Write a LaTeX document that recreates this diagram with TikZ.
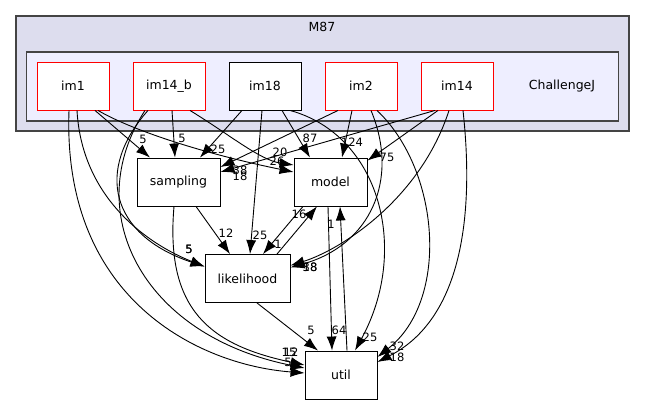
\documentclass[tikz,border=0pt]{standalone}
\usepackage{fontspec}
\setmainfont{DejaVu Sans}
\usetikzlibrary{arrows.meta}
\definecolor{outerfill}{HTML}{DDDDEE}
\definecolor{innerfill}{HTML}{EEEEFF}
\definecolor{boxline}{HTML}{444444}
\tikzset{
    dirbox/.style={draw, fill=white, line width=0.9pt, minimum width=72pt, minimum height=48pt, inner sep=0pt, font=\fontsize{12.5}{15}\selectfont},
    lbl/.style={inner sep=0pt, font=\fontsize{11.5}{13}\selectfont},
    dep/.style={->, line width=0.9pt},
}
\begin{document}
\begin{tikzpicture}[x=1pt, y=-1pt, >={Latex[length=14pt,width=10pt]}]
    \useasboundingbox (0,0) rectangle (645,404);
    % Khung thư mục
    \draw[draw=boxline, fill=outerfill, line width=1.2pt] (16,16) rectangle (629,131);
    \node[font=\fontsize{12.5}{15}\selectfont] (m87) at (322,27) {M87};
    \draw[draw=boxline, fill=innerfill, line width=1.2pt] (26.5,52) rectangle (618.5,121);
    \node[font=\fontsize{12.5}{15}\selectfont] (chj) at (562,86) {ChallengeJ};

    % Các thư mục con
    \foreach \n/\t/\x/\c in {im1/im1/73/red, im14b/im14\_b/169/red, im18/im18/265/black, im2/im2/361/red, im14/im14/457/red} {
        \node[dirbox, draw=\c] (\n) at (\x,86) {\t};
    }
    \node[dirbox, minimum width=83pt] (sampling) at (178.5,182) {sampling};
    \node[dirbox, minimum width=73pt] (model) at (330.5,182) {model};
    \node[dirbox, minimum width=85pt] (likelihood) at (247.5,278.5) {likelihood};
    \node[dirbox] (util) at (341,375) {util};

    % Phụ thuộc từ im1
    \draw[dep] ([xshift=22pt]im1.south) -- ([xshift=-28.5pt]sampling.north) node[lbl] at (143,139) {5};
    \draw[dep] ([xshift=25pt]im1.south) .. controls (135,132) and (210,155) .. ([yshift=10pt]model.west) node[lbl] at (277,161) {26};
    \draw[dep] ([xshift=4pt]im1.south) .. controls (82,200) and (150,245) .. ([yshift=12pt]likelihood.west) node[lbl] at (189,249) {5};
    \draw[dep] ([xshift=-4pt]im1.south) .. controls (62,300) and (200,365) .. ([yshift=2pt]util.west) node[lbl] at (288,362) {5};

    % Phụ thuộc từ im14_b
    \draw[dep] ([xshift=3pt]im14b.south) -- ([xshift=-3.5pt]sampling.north) node[lbl] at (182,138) {5};
    \draw[dep] ([xshift=21pt]im14b.south) .. controls (230,135) and (260,160) .. ([yshift=17pt]model.west) node[lbl] at (280,152) {20};
    \draw[dep] ([xshift=-21pt]im14b.south) .. controls (95,170) and (110,235) .. ([yshift=12pt]likelihood.west) node[lbl] at (189,249) {5};
    \draw[dep] ([xshift=-24pt]im14b.south) .. controls (80,210) and (140,335) .. ([yshift=7pt]util.west) node[lbl] at (291,352) {12};

    % Phụ thuộc từ im18
    \draw[dep] ([xshift=-23pt]im18.south) -- ([xshift=21.5pt]sampling.north) node[lbl] at (218,149) {25};
    \draw[dep] ([xshift=-3pt]im18.south) -- ([xshift=2.5pt]likelihood.north) node[lbl] at (260,235) {25};
    \draw[dep] ([xshift=17pt]im18.south) -- ([xshift=-20.5pt]model.north) node[lbl] at (310,138) {87};
    \draw[dep] ([xshift=25pt]im18.south) .. controls (380,135) and (410,250) .. ([xshift=14pt]util.north) node[lbl] at (370,337) {25};

    % Phụ thuộc từ im2
    \draw[dep] ([xshift=-23pt]im2.south) -- ([yshift=15pt]sampling.east) node[lbl] at (240,170) {38};
    \draw[dep] ([xshift=-9pt]im2.south) -- ([xshift=11.5pt]model.north) node[lbl] at (352,142) {124};
    \draw[dep] ([xshift=10pt]im2.south) .. controls (400,180) and (370,245) .. ([yshift=11pt]likelihood.east) node[lbl] at (310,267) {38};
    \draw[dep] ([xshift=16pt]im2.south) .. controls (440,170) and (450,300) .. ([yshift=18pt]util.east) node[lbl] at (397,346) {32};

    % Phụ thuộc từ im14
    \draw[dep] ([xshift=-22pt]im14.south) -- ([yshift=10pt]sampling.east) node[lbl] at (240,176) {18};
    \draw[dep] ([xshift=-19pt]im14.south) -- ([yshift=-3pt]model.north east) node[lbl] at (387,157) {75};
    \draw[dep] ([xshift=-8pt]im14.south) .. controls (420,200) and (340,250) .. ([yshift=13pt]likelihood.east) node[lbl] at (310,267) {18};
    \draw[dep] ([xshift=6pt]im14.south) .. controls (475,220) and (460,320) .. ([yshift=13pt]util.east) node[lbl] at (397,357) {18};

    % Phụ thuộc giữa các thư mục dưới
    \draw[dep] ([xshift=17.5pt]sampling.south) -- ([xshift=-17.5pt]likelihood.north) node[lbl] at (226,233) {12};
    \draw[dep] ([xshift=-4.5pt]sampling.south) .. controls (165,310) and (210,345) .. ([yshift=10pt]util.west) node[lbl] at (289,352) {15};
    \draw[dep] ([xshift=9.5pt]likelihood.south) -- ([xshift=-23pt]util.north) node[lbl] at (311,330) {5};
    \draw[dep] ([xshift=29.5pt]likelihood.north) -- ([xshift=-13.5pt]model.south) node[lbl] at (299,214) {16};
    \draw[dep] ([xshift=-27.5pt]model.south) -- ([xshift=15.5pt]likelihood.north) node[lbl] at (278,244) {1};
    \draw[dep] ([xshift=-2.5pt]model.south) -- ([xshift=-9pt]util.north) node[lbl] at (339,330) {64};
    \draw[dep] ([xshift=6pt]util.north) -- ([xshift=9.5pt]model.south) node[lbl] at (331,224) {1};
\end{tikzpicture}
\end{document}
